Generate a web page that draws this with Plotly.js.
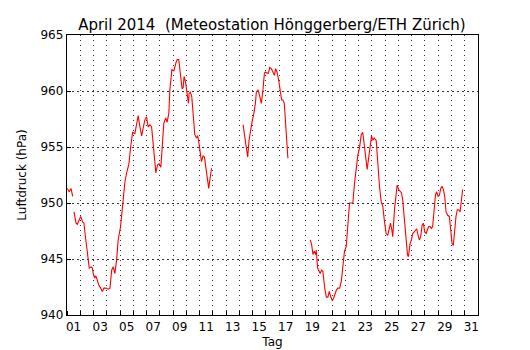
<!DOCTYPE html>
<html>
<head>
<meta charset="utf-8">
<script src="https://cdn.plot.ly/plotly-3.0.1.min.js"></script>
<style>html,body{margin:0;padding:0;background:#fff}#chart{width:530px;height:350px}</style>
</head>
<body>
<div id="chart"></div>
<script>
// Day of month (decimal, 1.0 = 1 April 00:00); null = gap in data
const tag = [
1.02,1.17,1.30,1.43,1.49,
1.53,1.68,1.78,1.93,2.03,2.18,2.28,2.36,2.48,2.60,2.68,2.81,2.91,2.98,3.09,3.18,3.28,3.39,3.54,3.66,3.79,3.94,
4.11,4.24,4.37,4.49,4.61,4.74,4.86,5.04,5.19,5.37,5.50,5.67,5.80,5.95,6.12,6.25,6.37,6.50,6.63,6.75,6.87,7.00,
7.12,7.25,7.38,7.50,7.63,7.70,7.83,7.95,8.08,8.18,8.30,8.45,8.55,8.68,8.76,8.91,9.06,9.21,9.31,9.43,9.51,9.58,
9.68,9.76,9.83,9.94,10.06,10.16,10.21,10.31,10.41,10.51,10.64,10.77,10.86,10.96,11.07,11.14,11.26,11.37,11.47,
11.59,11.69,11.79,11.90,12.5,
14.28,14.40,14.53,14.63,14.73,14.86,14.98,15.08,15.21,15.28,15.41,15.48,15.59,15.66,15.78,15.89,15.98,16.08,
16.19,16.29,16.41,16.53,16.64,16.74,16.84,16.96,17.09,17.19,17.29,17.39,17.49,17.59,17.66,18.5,
19.35,19.45,19.55,19.65,19.75,19.80,19.90,20.00,20.10,20.20,20.30,20.43,20.56,20.68,20.78,20.90,21.01,21.11,
21.20,21.31,21.43,21.56,21.69,21.81,21.93,22.06,22.18,22.31,22.44,22.56,22.69,22.81,22.94,23.06,23.19,23.31,
23.42,23.54,23.64,23.76,23.87,23.97,24.06,24.17,24.32,24.44,24.57,24.70,24.82,24.95,25.07,25.19,25.32,25.40,
25.50,25.57,25.70,25.83,25.90,26.02,26.13,26.23,26.32,26.45,26.58,26.68,26.75,26.88,26.98,27.08,27.18,27.28,
27.38,27.48,27.58,27.68,27.78,27.88,27.98,28.09,28.18,28.28,28.39,28.48,28.58,28.69,28.79,28.88,28.99,29.09,
29.19,29.29,29.39,29.49,29.59,29.71,29.84,29.94,30.04,30.14,30.24,30.34,30.44,30.54,30.65,30.74,30.84
];
// Air pressure (hPa)
const luftdruck = [
951.3,951.0,951.3,950.6,null,
949.2,948.2,948.1,948.6,948.8,948.3,948.2,947.3,946.1,944.9,944.2,944.3,944.2,943.7,943.3,943.5,943.1,942.7,942.4,942.1,942.4,942.4,
942.3,942.4,944.0,944.3,943.7,944.9,946.7,947.9,949.7,951.9,952.7,953.5,955.0,956.3,956.2,957.1,957.8,956.8,956.0,956.7,957.4,957.7,
956.8,957.0,956.8,955.3,953.5,952.7,953.4,953.5,953.2,955.0,957.1,957.6,957.2,958.0,960.1,961.9,961.8,962.5,962.8,962.8,961.9,960.7,
960.2,960.3,961.3,960.8,959.9,958.9,959.8,959.9,959.5,957.7,956.1,955.8,956.0,955.3,954.4,953.7,954.2,954.1,953.2,
951.9,951.3,952.2,953.1,null,
957.0,955.9,954.6,954.1,955.6,956.7,957.4,957.9,958.9,959.9,960.1,959.8,959.0,958.9,960.1,961.6,961.7,961.6,
961.6,962.1,962.0,961.7,961.4,962.0,961.7,961.0,959.8,959.2,959.2,958.9,957.1,955.3,954.0,null,
946.7,946.3,945.4,945.7,945.4,945.8,944.2,943.9,943.7,944.0,943.9,942.5,941.6,941.6,942.1,941.6,941.3,941.5,
941.9,942.2,942.4,942.4,943.0,944.6,945.7,946.1,947.9,950.0,950.0,950.0,951.8,953.0,954.3,954.9,956.1,956.3,
955.0,953.7,953.0,954.1,955.0,956.0,955.6,955.8,955.6,953.5,951.5,950.1,949.7,948.3,947.3,947.1,948.0,948.2,
947.6,947.0,949.4,951.2,951.6,951.2,951.0,950.9,950.3,948.5,947.0,945.4,945.2,946.4,946.7,947.3,947.4,947.6,
947.7,947.1,946.7,947.0,948.0,948.2,947.4,947.3,947.7,947.9,947.9,947.7,947.9,949.1,950.7,951.0,950.6,950.7,
951.3,951.5,951.2,950.6,949.2,948.9,948.8,947.6,946.4,946.2,947.6,948.8,949.4,949.4,949.2,950.3,951.2
];
const tickTage = ['01','03','05','07','09','11','13','15','17','19','21','23','25','27','29','31'];
const tickPos = tickTage.map(t => parseInt(t, 10) + 0.5);
const yTicks = [940, 945, 950, 955, 960, 965];

const font = {family: 'DejaVu Sans, sans-serif', size: 12, color: '#000'};

Plotly.newPlot('chart', [{
  x: tag, y: luftdruck, type: 'scatter', mode: 'lines',
  line: {color: '#ff0000', width: 1.1},
  connectgaps: false, hoverinfo: 'skip'
}], {
  width: 530, height: 350,
  margin: {l: 67, r: 52, t: 35, b: 35},
  paper_bgcolor: '#fff', plot_bgcolor: '#fff',
  showlegend: false,
  font: font,
  title: {text: 'April 2014  (Meteostation Hönggerberg/ETH Zürich)',
          font: {family: 'DejaVu Sans, sans-serif', size: 15, color: '#000'},
          x: 0.513, xanchor: 'center', y: 0.93, yanchor: 'middle', yref: 'container'},
  xaxis: {
    range: [1, 32], tickmode: 'array', tickvals: tickPos, ticktext: tickTage,
    ticks: '', showgrid: false, zeroline: false,
    showline: true, linecolor: '#000', linewidth: 1.2, mirror: true,
    tickfont: {family: 'DejaVu Sans, sans-serif', size: 12, color: '#000'},
    minor: {dtick: 1, tick0: 1, ticks: 'inside', ticklen: 4, tickcolor: '#000',
            showgrid: true, gridcolor: '#333', griddash: '1px,4px', gridwidth: 1},
    title: {text: 'Tag', font: {family: 'DejaVu Sans, sans-serif', size: 12, color: '#000'}, standoff: 5},
    fixedrange: true
  },
  yaxis: {
    range: [940, 965], tickmode: 'array', tickvals: yTicks,
    ticks: 'inside', ticklen: 4, tickcolor: '#000',
    showgrid: true, gridcolor: '#333', griddash: '1.5px,3.5px', gridwidth: 1,
    zeroline: false, showline: true, linecolor: '#000', linewidth: 1.2, mirror: true,
    tickfont: {family: 'DejaVu Sans, sans-serif', size: 12, color: '#000'},
    title: {text: 'Luftdruck (hPa)', font: {family: 'DejaVu Sans, sans-serif', size: 12, color: '#000'}, standoff: 11},
    fixedrange: true
  }
}, {displayModeBar: false, staticPlot: true});
</script>
</body>
</html>
